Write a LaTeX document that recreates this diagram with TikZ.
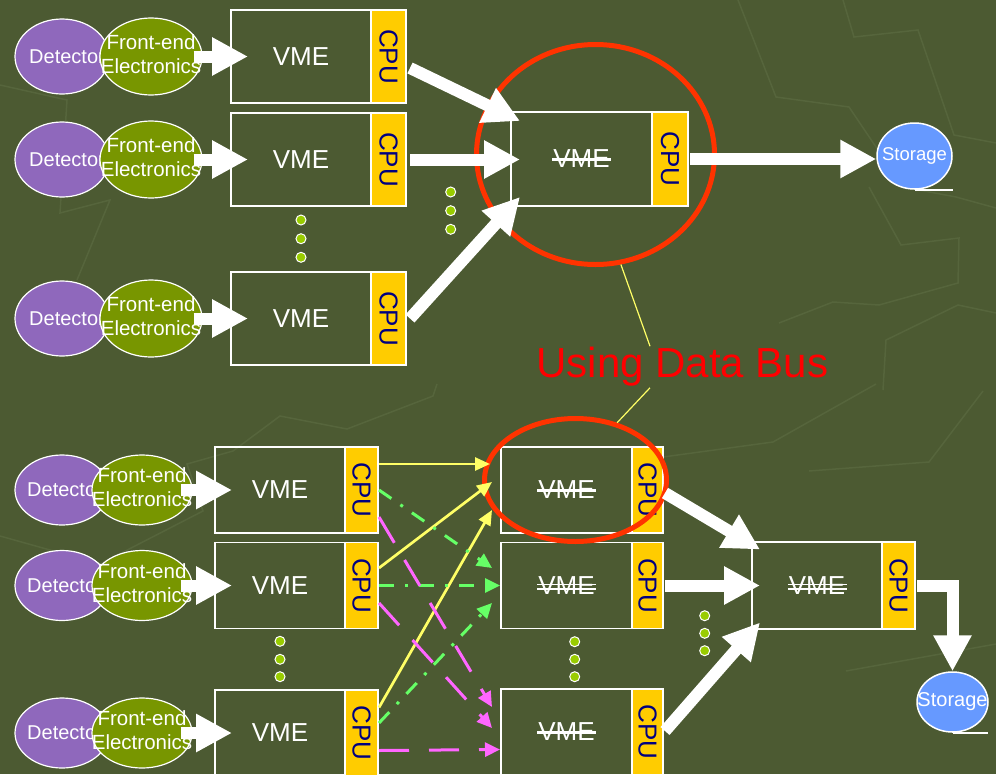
\documentclass[tikz,border=0pt]{standalone}
\usepackage{fontspec}
\setmainfont{Liberation Sans}
\usepackage{graphicx}
\usetikzlibrary{shapes.geometric,arrows.meta,positioning,calc}
\definecolor{olivebg}{RGB}{76,90,50}
\definecolor{texture}{RGB}{86,101,60}
\definecolor{detpurple}{RGB}{143,104,188}
\definecolor{fegreen}{RGB}{120,150,0}
\definecolor{cpuyellow}{RGB}{255,204,0}
\definecolor{cpunavy}{RGB}{0,0,128}
\definecolor{storblue}{RGB}{102,153,255}
\definecolor{ringred}{RGB}{255,51,0}
\definecolor{dotgreen}{RGB}{153,204,0}
\definecolor{busyellow}{RGB}{255,255,102}
\definecolor{busgreen}{RGB}{102,255,102}
\definecolor{buspink}{RGB}{255,102,255}
\newcommand{\cpulabel}{\rotatebox{-90}{CPU}}
\newcommand{\fetext}{\makebox[0pt]{\begin{tabular}{@{}c@{}}Front-end\\Electronics\end{tabular}}}
\newcommand{\vmeone}{\makebox[0pt][l]{\hspace{-1pt}\rule[7pt]{59pt}{2.5pt}}VME}
\newcommand{\vmetwo}{\makebox[0pt][l]{\hspace{-1pt}\rule[4.7pt]{59pt}{1.3pt}}\makebox[0pt][l]{\hspace{-1pt}\rule[9.2pt]{59pt}{1.3pt}}VME}
\tikzset{
	detnode/.style={ellipse, draw=white, line width=1.2pt, fill=detpurple, text=white,
		minimum width=94pt, minimum height=75pt, inner sep=0pt, font=\fontsize{20}{24}\selectfont},
	fenode/.style={ellipse, draw=white, line width=1.2pt, fill=fegreen, text=white,
		minimum width=102pt, minimum height=77pt, inner sep=0pt, font=\fontsize{20.5}{24}\selectfont},
	vmebox/.style={rectangle, draw=white, line width=1.5pt, outer sep=0pt, inner sep=0pt,
		text=white, font=\fontsize{26}{30}\selectfont},
	cpubox/.style={rectangle, draw=white, line width=1.5pt, fill=cpuyellow, outer sep=0pt,
		inner sep=0pt, text=cpunavy, font=\fontsize{26}{30}\selectfont},
	dotmark/.style={circle, draw=white, line width=1pt, fill=dotgreen, minimum size=10pt, inner sep=0pt},
	storenode/.style={ellipse, draw=white, line width=1.5pt, fill=storblue, text=white, inner sep=0pt},
	ring/.style={ellipse, draw=ringred, line width=5pt, inner sep=0pt},
	bigarr/.style={draw=white, line width=12pt, -{Triangle[width=36pt,length=36pt]}},
	yarr/.style={draw=busyellow, line width=2.7pt, -{Triangle[width=13pt,length=15pt]}},
	garr/.style={draw=busgreen, line width=3pt, dash pattern=on 15pt off 11pt on 3pt off 11pt,
		-{Triangle[width=14pt,length=15pt]}},
	parr/.style={draw=buspink, line width=3pt, dash pattern=on 30pt off 20pt,
		-{Triangle[width=14pt,length=15pt]}}
}
\begin{document}
\begin{tikzpicture}[x=1pt,y=-1pt]
	\useasboundingbox (0,0) rectangle (996,774);
	\clip (0,0) rectangle (996,774);
	\fill[olivebg] (0,0) rectangle (996,774);
	% faint background pattern
	\draw[texture, line width=1.5pt] (843,0) -- (854,37) -- (918,30) -- (954,135) -- (996,143);
	\draw[texture, line width=1.5pt] (738,0) -- (776,97) -- (849,107) -- (903,187) -- (956,197) -- (996,208);
	\draw[texture, line width=1.5pt] (869,187) -- (901,245) -- (959,238) -- (958,283) -- (879,305) -- (833,302) -- (779,323);
	\draw[texture, line width=1.5pt] (883,390) -- (886,340) -- (958,305) -- (996,313);
	\draw[texture, line width=1.5pt] (0,85) -- (67,100) -- (60,213) -- (110,200) -- (77,280);
	\draw[texture, line width=1.5pt] (0,536) -- (100,564) -- (203,511) -- (187,464) -- (233,451) -- (280,416) -- (347,429) -- (433,396) -- (437,384);
	\draw[texture, line width=1.5pt] (663,457) -- (773,442) -- (876,384);
	\draw[texture, line width=1.5pt] (809,471) -- (929,462) -- (983,391);
	\draw[texture, line width=1.5pt] (846,671) -- (996,644);

	% upper half
	\foreach \r/\y in {1/56.5,2/159.5,3/318.5}{
		\node[detnode] (det\r) at (62,\y) {\makebox[0pt]{\hspace{10pt}Detector}};
		\node[fenode] (fe\r) at (151,\y) {\fetext};
		\node[vmebox, minimum width=140pt, minimum height=93pt] (vme\r) at (301,\y) {VME};
		\node[cpubox, minimum width=35pt, minimum height=93pt, right=0pt of vme\r] (cpu\r) {\cpulabel};
		\draw[bigarr] ([xshift=-9pt]fe\r.east) -- ([xshift=17pt]vme\r.west);
	}
	\node[vmebox, minimum width=141pt, minimum height=94pt] (hub) at (581.5,159) {\vmeone};
	\node[cpubox, minimum width=36pt, minimum height=94pt, right=0pt of hub] (hubcpu) {\cpulabel};
	\node[storenode, minimum width=75pt, minimum height=66pt, font=\fontsize{18.5}{22}\selectfont] (store) at (914.5,156) {\makebox[0pt]{Storage}};
	\draw[white, line width=1.5pt] (store.south) -- ++(38,0);
	\node[ring, minimum width=238pt, minimum height=220pt] (ringTop) at (595.5,154.5) {};
	\draw[bigarr] ([shift={(4,11.5)}]cpu1.east) -- ([shift={(9,-38)}]hub.west);
	\draw[bigarr] ([shift={(4,0)}]cpu2.east) -- ([xshift=9pt]cpu2.east -| hub.west);
	\draw[bigarr] ([shift={(4,0)}]cpu3.east) -- ([shift={(9,38)}]hub.west);
	\draw[bigarr] ([xshift=2pt]hubcpu.east) -- (hubcpu.east -| store.west);
	\foreach \y in {220,238.7,257.3} \node[dotmark] (dl\y) at (301,\y) {};
	\foreach \y in {192,210.7,229.3} \node[dotmark] (dh\y) at (450.7,\y) {};

	% label between the halves
	\node[text=red, font=\fontsize{42}{48}\selectfont, inner sep=1pt] (busLabel) at (682.5,367) {Using Data Bus};

	% lower half
	\foreach \r/\y in {1/490,2/585.5,3/733}{
		\node[detnode, minimum height=70pt] (bdet\r) at (62,\y) {\makebox[0pt]{\hspace{6pt}Detector}};
		\node[fenode, minimum width=100pt, minimum height=70pt] (bfe\r) at (142,\y) {\fetext};
		\node[vmebox, minimum width=130pt, minimum height=86pt] (bvme\r) at (280,\y) {VME};
		\node[cpubox, minimum width=33pt, minimum height=86pt, right=0pt of bvme\r] (bcpu\r) {\cpulabel};
		\draw[bigarr] ([xshift=-12pt]bfe\r.east) -- ([xshift=17pt]bvme\r.west);
	}
	\foreach \r/\y/\t in {1/490/\vmeone,2/585.5/\vmetwo,3/732/\vmeone}{
		\node[vmebox, minimum width=131pt, minimum height=86pt] (mid\r) at (566.5,\y) {\t};
		\node[cpubox, minimum width=31pt, minimum height=86pt, right=0pt of mid\r] (mcpu\r) {\cpulabel};
	}
	\node[vmebox, minimum width=130pt, minimum height=87pt] (sink) at (817,585.5) {\vmetwo};
	\node[cpubox, minimum width=33pt, minimum height=87pt, right=0pt of sink] (sinkcpu) {\cpulabel};
	\node[storenode, minimum width=71pt, minimum height=60pt, font=\fontsize{20}{24}\selectfont] (storeB) at (952.5,702) {\makebox[0pt]{Storage}};
	\draw[white, line width=1.5pt] (storeB.south) -- ++(35,0);
	\node[ring, minimum width=182pt, minimum height=123pt] (ringBot) at (575.5,480) {};

	\draw[busyellow, line width=1.2pt] (ringTop.-77.7) -- ([xshift=-32.5pt]busLabel.north);
	\draw[busyellow, line width=1.2pt] ([xshift=-32.5pt]busLabel.south) -- (ringBot.54.6);

	\draw[yarr] ([shift={(1,-26)}]bcpu1.east) -- ([shift={(-11,-26)}]mid1.west);
	\draw[yarr] ([shift={(1,-17.5)}]bcpu2.east) -- ([shift={(-9,-8)}]mid1.west);
	\draw[yarr] ([shift={(1,-25.5)}]bcpu3.east) -- ([shift={(-9,20)}]mid1.west);
	\draw[garr] ([shift={(1,0)}]bcpu1.east) -- ([shift={(-9,-17.5)}]mid2.west);
	\draw[garr] ([shift={(1,0)}]bcpu2.east) -- ([shift={(-1,0)}]mid2.west);
	\draw[garr] ([shift={(1,-10)}]bcpu3.east) -- ([shift={(-9,17.5)}]mid2.west);
	\draw[parr] ([shift={(1,27)}]bcpu1.east) -- ([shift={(-9,-25)}]mid3.west);
	\draw[parr] ([shift={(1,17.5)}]bcpu2.east) -- ([shift={(-9,-4)}]mid3.west);
	\draw[parr] ([shift={(1,17.5)}]bcpu3.east) -- ([shift={(-1,17.5)}]mid3.west);

	\draw[bigarr] ([shift={(2,3)}]mcpu1.east) -- ([shift={(8,-36)}]sink.west);
	\draw[bigarr] ([shift={(2,0)}]mcpu2.east) -- ([shift={(8,0)}]sink.west);
	\draw[bigarr] ([shift={(2,-1)}]mcpu3.east) -- ([shift={(8,37)}]sink.west);
	\draw[bigarr] ([xshift=2pt]sinkcpu.east) -| (storeB.north);

	\foreach \y in {641.3,659.3,676.7} \node[dotmark] (bl\y) at (280,\y) {};
	\foreach \y in {641.7,659.3,676.7} \node[dotmark] (bm\y) at (574.7,\y) {};
	\foreach \y in {615.7,633.3,650.7} \node[dotmark] (br\y) at (704.7,\y) {};
\end{tikzpicture}
\end{document}
